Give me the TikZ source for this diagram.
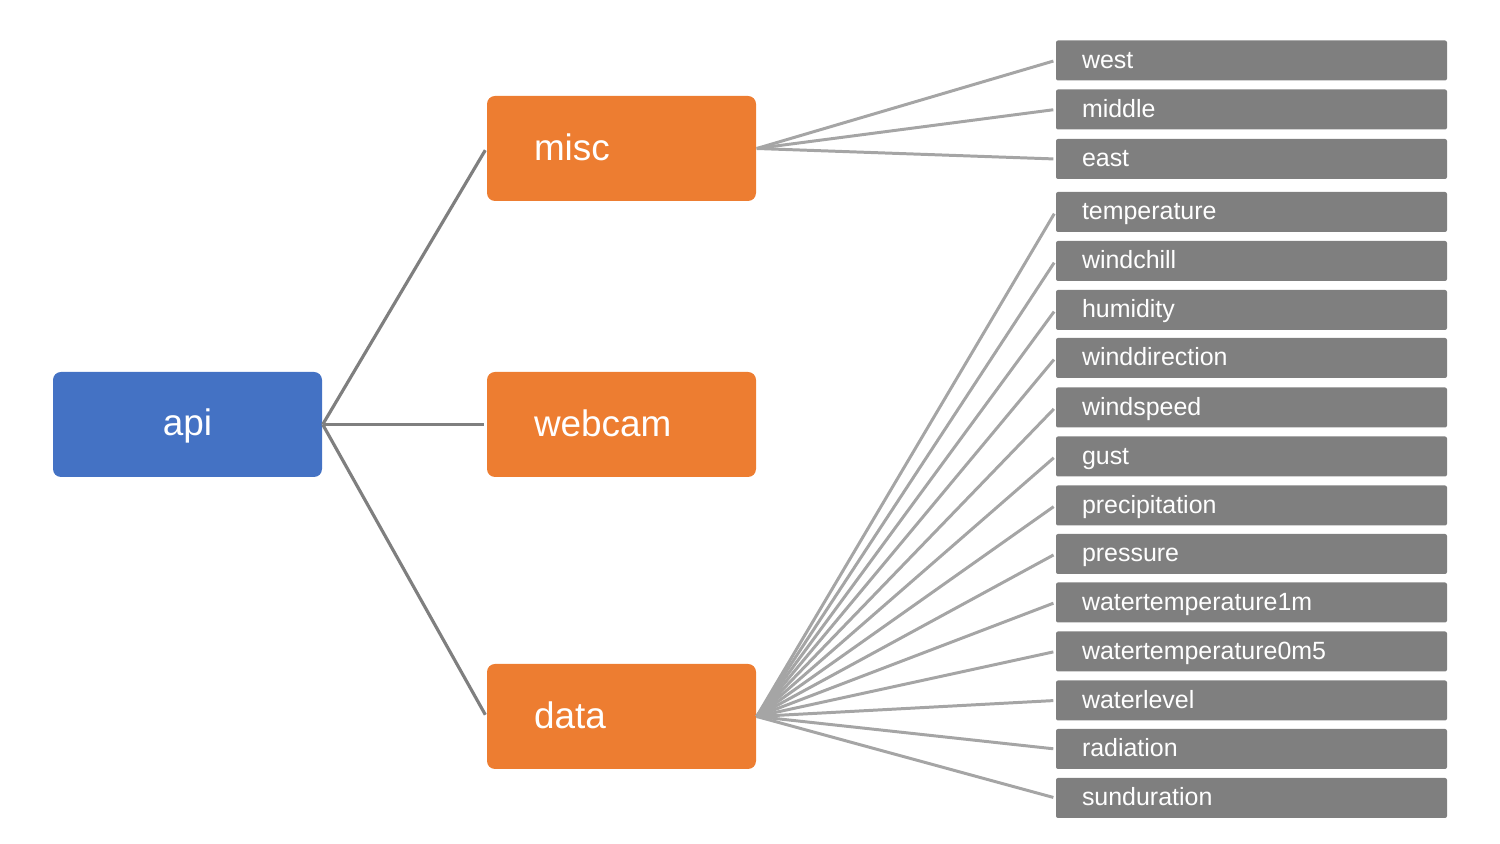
\documentclass[tikz,border=0pt]{standalone}
\usepackage{fontspec}
\setmainfont{Liberation Sans}
\usepackage{tikz}
\definecolor{apiblue}{HTML}{4472C4}
\definecolor{grouporange}{HTML}{ED7D31}
\definecolor{leafgray}{HTML}{7F7F7F}
\definecolor{linkgray}{HTML}{7F7F7F}
\definecolor{leaflinkgray}{HTML}{A5A5A5}

\begin{document}
\begin{tikzpicture}[root/.style={rectangle,fill=apiblue,rounded corners=0.08cm,
		minimum width=2.69cm,minimum height=1.05cm,text=white,
		text height=1.6ex,text depth=0.4ex,
		font=\fontsize{10.5}{12}\selectfont},
	group/.style={rectangle,fill=grouporange,rounded corners=0.08cm,
		minimum height=1.05cm,inner xsep=0.47cm,inner ysep=0pt,text width=1.75cm,
		text height=1.65ex,text depth=0.35ex,
		align=left,text=white,font=\fontsize{10.5}{12}\selectfont},
	leaf/.style={rectangle,fill=leafgray,rounded corners=0.02cm,
		minimum height=0.40cm,inner xsep=0.26cm,inner ysep=0pt,text width=3.39cm,
		text height=1.44ex,text depth=0.61ex,
		align=left,text=white,font=\fontsize{7.1}{8}\selectfont},
	link/.style={draw=linkgray,line width=0.9pt,shorten >=0.02cm},
	leaflink/.style={draw=leaflinkgray,line width=0.85pt,shorten >=0.02cm}]
	\useasboundingbox (0,0) rectangle (15,-8.44);
	\node[root] (api) at (1.875,-4.245) {api};
	\node[group] (misc) at (6.215,-1.485) {misc};
	\node[group] (webcam) at (6.215,-4.245) {webcam};
	\node[group] (data) at (6.215,-7.165) {data};
	% misc leaves
	\node[leaf] (west) at (12.515,-0.605) {west};
	\node[leaf] (middle) at (12.515,-1.095) {middle};
	\node[leaf] (east) at (12.515,-1.59) {east};
	% data leaves
	\node[leaf] (temperature) at (12.515,-2.12) {temperature};
	\node[leaf] (windchill) at (12.515,-2.61) {windchill};
	\node[leaf] (humidity) at (12.515,-3.10) {humidity};
	\node[leaf] (winddirection) at (12.515,-3.58) {winddirection};
	\node[leaf] (windspeed) at (12.515,-4.075) {windspeed};
	\node[leaf] (gust) at (12.515,-4.565) {gust};
	\node[leaf] (precipitation) at (12.515,-5.055) {precipitation};
	\node[leaf] (pressure) at (12.515,-5.54) {pressure};
	\node[leaf] (wt1m) at (12.515,-6.025) {watertemperature1m};
	\node[leaf] (wt0m5) at (12.515,-6.515) {watertemperature0m5};
	\node[leaf] (waterlevel) at (12.515,-7.005) {waterlevel};
	\node[leaf] (radiation) at (12.515,-7.49) {radiation};
	\node[leaf] (sunduration) at (12.515,-7.98) {sunduration};
	\draw[link] (api.east) -- (misc.west);
	\draw[link] (api.east) -- (webcam.west);
	\draw[link] (api.east) -- (data.west);
	\draw[leaflink] (misc.east) -- (west.west);
	\draw[leaflink] (misc.east) -- (middle.west);
	\draw[leaflink] (misc.east) -- (east.west);
	\draw[leaflink] (data.east) -- (temperature.west);
	\draw[leaflink] (data.east) -- (windchill.west);
	\draw[leaflink] (data.east) -- (humidity.west);
	\draw[leaflink] (data.east) -- (winddirection.west);
	\draw[leaflink] (data.east) -- (windspeed.west);
	\draw[leaflink] (data.east) -- (gust.west);
	\draw[leaflink] (data.east) -- (precipitation.west);
	\draw[leaflink] (data.east) -- (pressure.west);
	\draw[leaflink] (data.east) -- (wt1m.west);
	\draw[leaflink] (data.east) -- (wt0m5.west);
	\draw[leaflink] (data.east) -- (waterlevel.west);
	\draw[leaflink] (data.east) -- (radiation.west);
	\draw[leaflink] (data.east) -- (sunduration.west);
\end{tikzpicture}
\end{document}
